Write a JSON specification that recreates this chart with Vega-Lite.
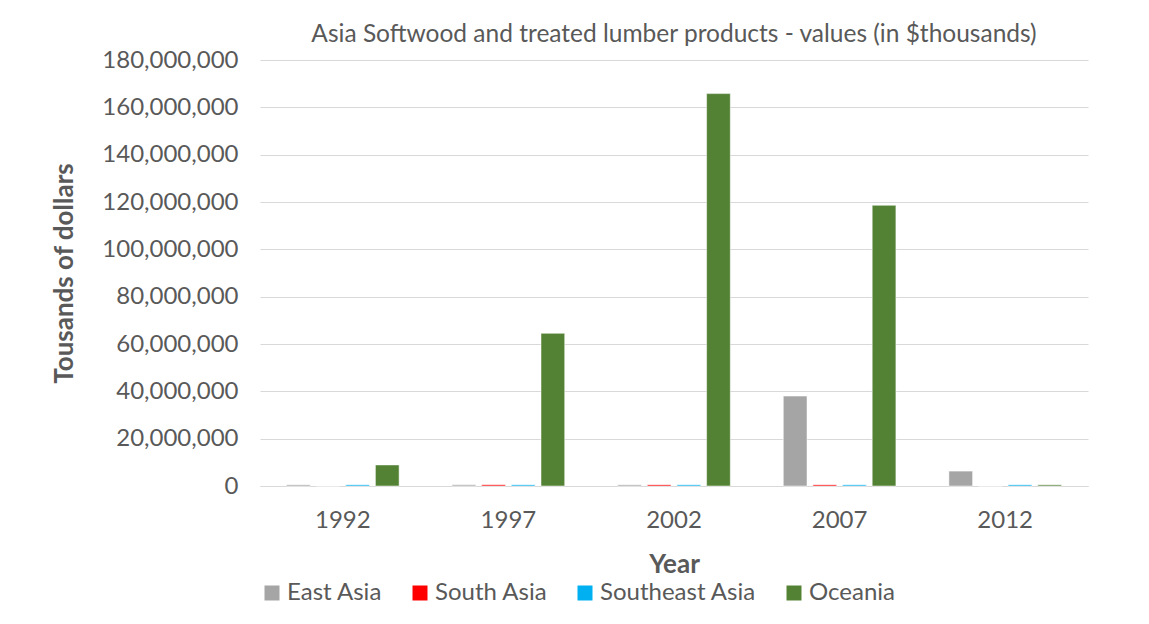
{
  "$schema": "https://vega.github.io/schema/vega-lite/v6.json",
  "width": 828,
  "height": 426,
  "autosize": {"type": "none"},
  "padding": {"left": 260, "top": 60, "right": 61, "bottom": 138},
  "background": "#ffffff",
  "title": {
    "text": "Asia Softwood and treated lumber products - values (in $thousands)",
    "font": "Lato",
    "fontSize": 24.5,
    "fontWeight": "normal",
    "color": "#595959",
    "anchor": "middle",
    "offset": 1
  },
  "data": {
    "values": [
      {"year": "1992", "region": "East Asia", "value": 500000},
      {"year": "1992", "region": "South Asia", "value": 0},
      {"year": "1992", "region": "Southeast Asia", "value": 500000},
      {"year": "1992", "region": "Oceania", "value": 8900000},
      {"year": "1997", "region": "East Asia", "value": 500000},
      {"year": "1997", "region": "South Asia", "value": 500000},
      {"year": "1997", "region": "Southeast Asia", "value": 500000},
      {"year": "1997", "region": "Oceania", "value": 64500000},
      {"year": "2002", "region": "East Asia", "value": 500000},
      {"year": "2002", "region": "South Asia", "value": 500000},
      {"year": "2002", "region": "Southeast Asia", "value": 500000},
      {"year": "2002", "region": "Oceania", "value": 165800000},
      {"year": "2007", "region": "East Asia", "value": 38000000},
      {"year": "2007", "region": "South Asia", "value": 500000},
      {"year": "2007", "region": "Southeast Asia", "value": 500000},
      {"year": "2007", "region": "Oceania", "value": 118600000},
      {"year": "2012", "region": "East Asia", "value": 6300000},
      {"year": "2012", "region": "South Asia", "value": 0},
      {"year": "2012", "region": "Southeast Asia", "value": 500000},
      {"year": "2012", "region": "Oceania", "value": 500000}
    ]
  },
  "mark": {"type": "bar", "stroke": "#ffffff", "strokeWidth": 0.5},
  "encoding": {
    "x": {
      "field": "year",
      "type": "nominal",
      "title": "Year",
      "scale": {"paddingInner": 0.32, "paddingOuter": 0.16},
      "axis": {
        "labelAngle": 0,
        "ticks": false,
        "labelPadding": 22,
        "domainColor": "#d9d9d9",
        "titlePadding": 19
      }
    },
    "xOffset": {
      "field": "region",
      "type": "nominal",
      "sort": ["East Asia", "South Asia", "Southeast Asia", "Oceania"],
      "scale": {"paddingInner": 0.2}
    },
    "y": {
      "field": "value",
      "type": "quantitative",
      "title": "Tousands of dollars",
      "scale": {"domain": [0, 180000000]},
      "axis": {
        "values": [0, 20000000, 40000000, 60000000, 80000000, 100000000, 120000000, 140000000, 160000000, 180000000],
        "format": ",d",
        "ticks": false,
        "domain": false,
        "labelPadding": 22,
        "titlePadding": 24,
        "gridColor": "#d9d9d9"
      }
    },
    "color": {
      "field": "region",
      "type": "nominal",
      "sort": ["East Asia", "South Asia", "Southeast Asia", "Oceania"],
      "scale": {
        "domain": ["East Asia", "South Asia", "Southeast Asia", "Oceania"],
        "range": ["#a5a5a5", "#ff0000", "#00b0f0", "#548235"]
      },
      "legend": {
        "title": null,
        "orient": "bottom",
        "direction": "horizontal",
        "symbolType": "square",
        "symbolSize": 225,
        "symbolStrokeWidth": 0,
        "labelFont": "Lato",
        "labelFontSize": 24,
        "labelColor": "#595959",
        "labelOffset": 3,
        "columnPadding": 25,
        "offset": 4
      }
    }
  },
  "config": {
    "view": {"stroke": null},
    "axis": {
      "labelFont": "Lato",
      "labelFontSize": 24,
      "labelColor": "#595959",
      "titleFont": "Lato",
      "titleFontSize": 26,
      "titleFontWeight": "bold",
      "titleColor": "#595959"
    }
  }
}
